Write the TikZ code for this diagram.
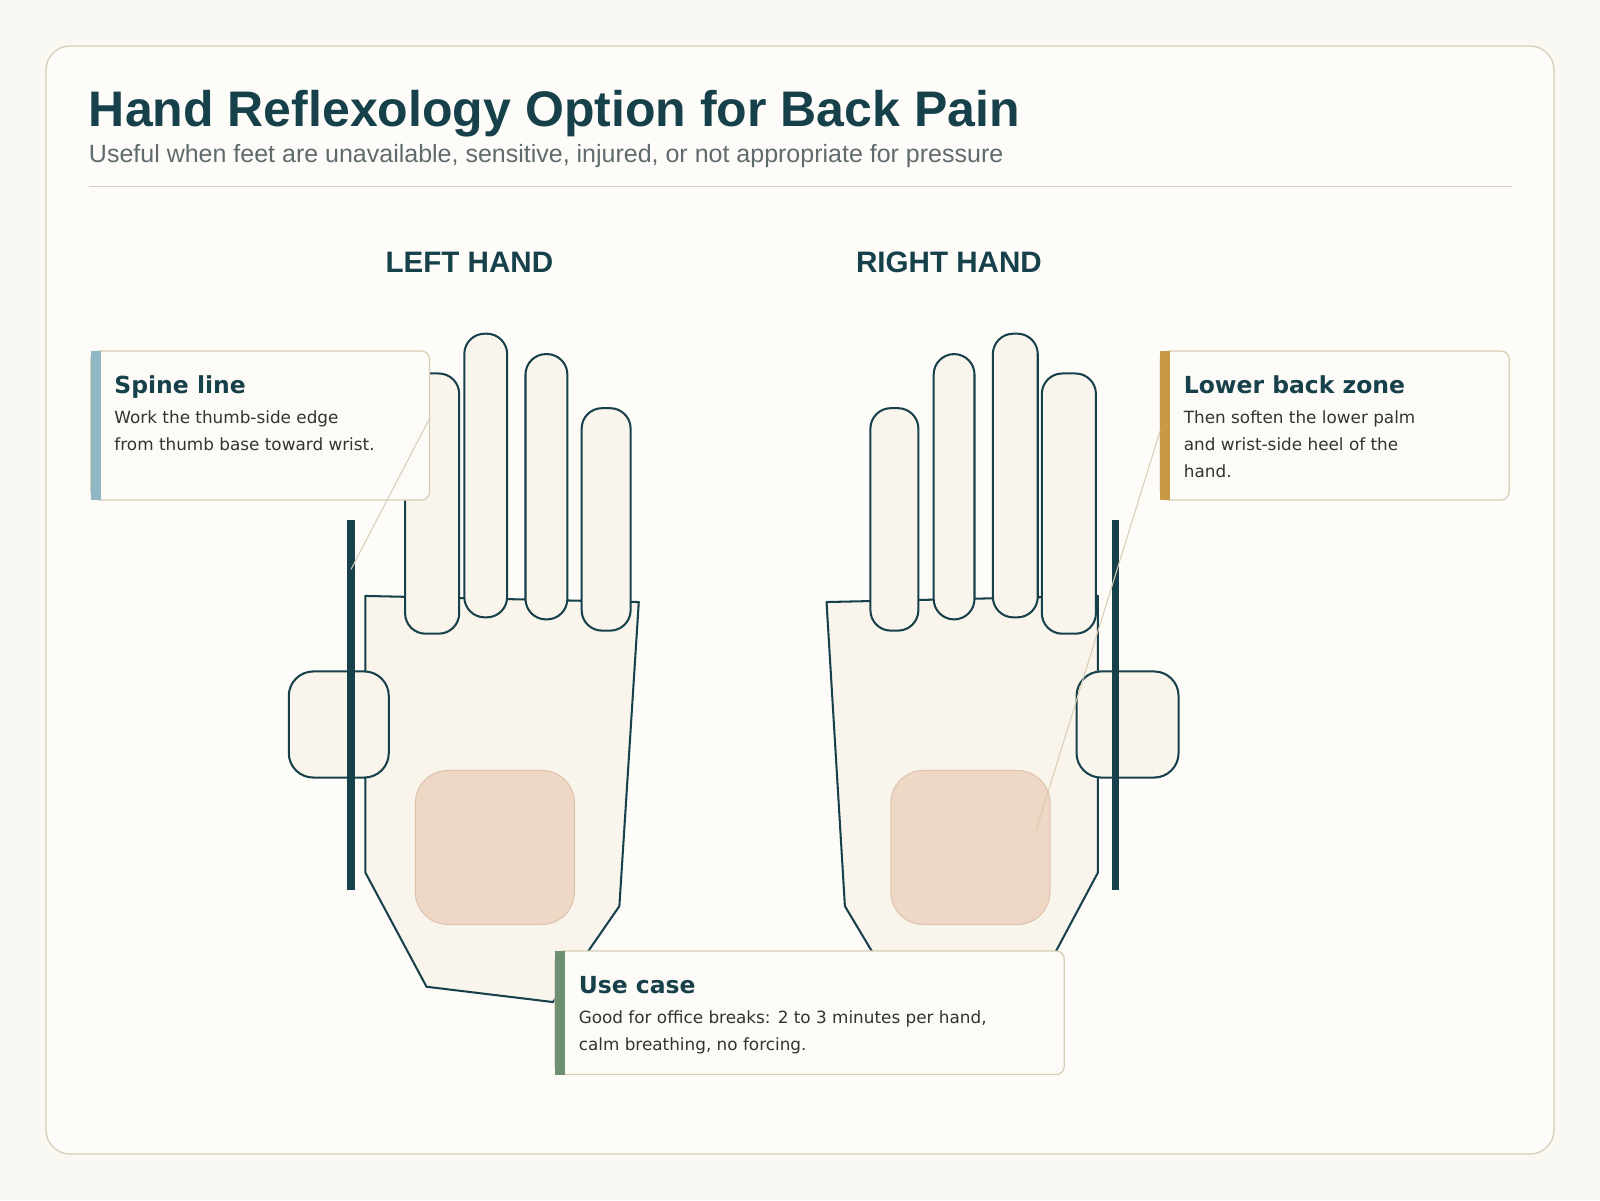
\documentclass[tikz,border=0pt]{standalone}
\usepackage{fontspec}
\setmainfont{Liberation Sans}
\newfontfamily\cardfont{DejaVu Sans}
\definecolor{ink}{HTML}{16404A}
\definecolor{tan}{HTML}{D8CCB5}
\definecolor{handfill}{HTML}{F9F5EC}
\definecolor{zonefill}{HTML}{EED7C5}
\definecolor{zoneline}{HTML}{DCC4AE}
\definecolor{sub}{HTML}{5F6B6D}
\definecolor{body}{HTML}{333333}
\definecolor{accblue}{HTML}{8FB8C4}
\definecolor{accgold}{HTML}{C89A45}
\definecolor{accgreen}{HTML}{6E8F72}
\definecolor{pagebg}{HTML}{F9F8F3}
\tikzset{
 hand/.style={draw=ink,line width=2pt,fill=handfill,line join=round},
 finger/.style={hand,rounded corners=20pt},
 thumbbox/.style={hand,rounded corners=24pt},
 zone/.style={fill=zonefill,draw=zoneline,line width=1pt,rounded corners=32pt},
 spine/.style={draw=ink,line width=7pt},
 leader/.style={draw=tan,line width=1pt},
 card/.style={draw=tan,fill=white!60!handfill,line width=1.2pt,rounded corners=8pt},
 ctitle/.style={anchor=base west,inner sep=0,text=ink,font=\cardfont\bfseries\fontsize{23}{28}\selectfont},
 cbody/.style={anchor=north west,inner sep=0,text=body,align=left,font=\cardfont\fontsize{16.5}{26.5}\selectfont},
 handlabel/.style={inner sep=0,text=ink,font=\bfseries\fontsize{29}{33}\selectfont}
}
\begin{document}
\begin{tikzpicture}[x=1pt,y=-1pt]
\useasboundingbox (0,0) rectangle (1568,1176);
\fill[pagebg] (0,0) rectangle (1568,1176);
\draw[tan,fill=white!70!handfill,line width=1.2pt,rounded corners=24pt] (45,45) rectangle (1523,1131);
\node[anchor=base west,inner sep=0,text=ink,font=\bfseries\fontsize{49}{53}\selectfont] (title) at (87,124) {Hand Reflexology Option for Back Pain};
\node[anchor=base west,inner sep=0,text=sub,font=\fontsize{24.5}{28}\selectfont] (subtitle) at (87,159) {Useful when feet are unavailable, sensitive, injured, or not appropriate for pressure};
\draw[tan,line width=1.2pt] (87,183) -- (1482,183);
\node[handlabel] (lh) at (460,257) {LEFT HAND};
\node[handlabel] (rh) at (930,257) {RIGHT HAND};
% left hand
\draw[hand] (358,584) -- (626,590) -- (607,888) -- (542,982) -- (418,967) -- (358,855) -- cycle;
\draw[finger] (397,366) rectangle (450,621);
\draw[finger] (455,327) rectangle (497,605);
\draw[finger] (515,347) rectangle (556,607);
\draw[finger] (570,400) rectangle (618,618);
\draw[thumbbox] (283,658) rectangle (381,762);
\draw[spine] (344,510) -- (344,872);
\draw[zone] (407,755) rectangle (563,906);
% right hand
\draw[hand] (810,590) -- (1076,584) -- (1076,855) -- (1020,960) -- (880,975) -- (828,888) -- cycle;
\draw[finger] (853,400) rectangle (900,618);
\draw[finger] (915,347) rectangle (955,607);
\draw[finger] (973,327) rectangle (1017,605);
\draw[finger] (1021,366) rectangle (1074,621);
\draw[thumbbox] (1055,658) rectangle (1155,762);
\draw[spine] (1093,510) -- (1093,872);
\draw[zone] (873,755) rectangle (1029,906);
% cards
\draw[card] (89,344) rectangle (421,490);
\fill[accblue] (89,344) rectangle (99,490);
\node[ctitle] (t1) at (112,386) {Spine line};
\node[cbody] (b1) at (112,402) {Work the thumb-side edge\\from thumb base toward wrist.};
\draw[card] (1137,344) rectangle (1479,490);
\fill[accgold] (1137,344) rectangle (1147,490);
\node[ctitle] (t2) at (1160,386) {Lower back zone};
\node[cbody] (b2) at (1160,402) {Then soften the lower palm\\and wrist-side heel of the\\hand.};
\draw[card] (544,932) rectangle (1043,1053);
\fill[accgreen] (544,932) rectangle (554,1053);
\node[ctitle] (t3) at (567,974) {Use case};
\node[cbody] (b3) at (567,990) {Good for office breaks: 2 to 3 minutes per hand,\\calm breathing, no forcing.};
% leaders on top
\coordinate (sp) at (344,558);
\coordinate (lb) at (1015,815);
\coordinate (c1) at (421,410);
\coordinate (c2) at (1137,422);
\draw[leader] (c1) -- (sp);
\draw[leader] (c2) -- (lb);
\end{tikzpicture}
\end{document}
